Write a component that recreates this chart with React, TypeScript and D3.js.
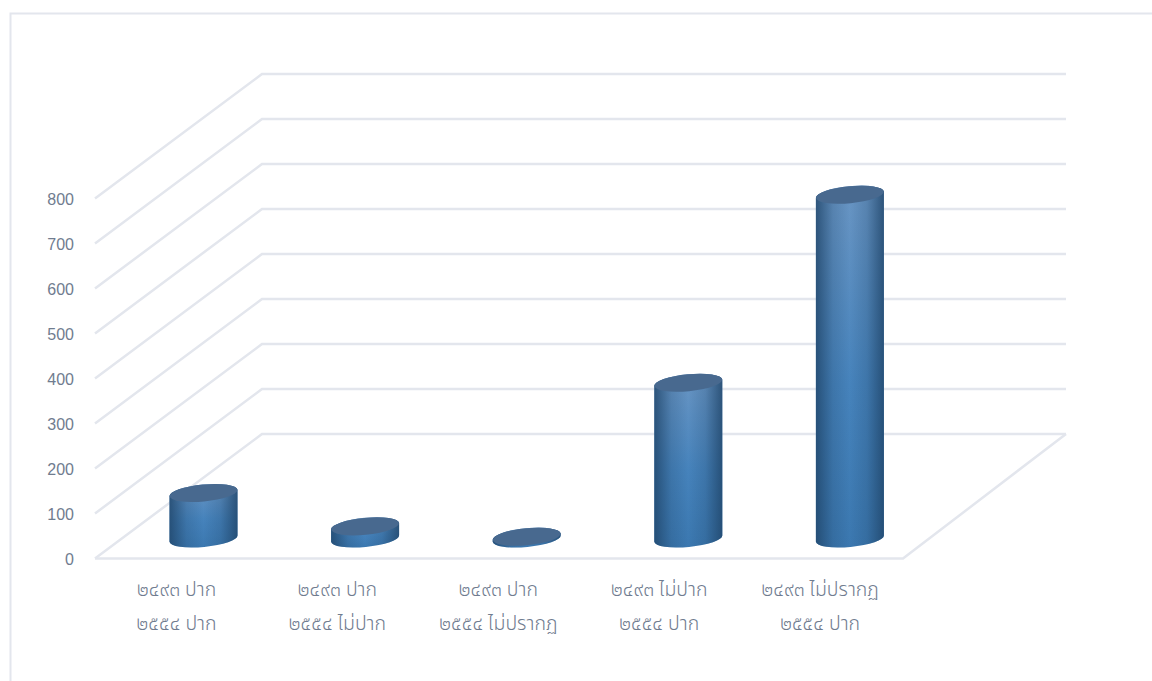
import React from "react";
import * as d3 from "d3";

// Survey outcome pairs: the status in each of the two survey years.
const firstYearLabels = ["๒๔๙๓ ปาก", "๒๔๙๓ ปาก", "๒๔๙๓ ปาก", "๒๔๙๓ ไม่ปาก", "๒๔๙๓ ไม่ปรากฏ"];
const secondYearLabels = ["๒๕๕๔ ปาก", "๒๕๕๔ ไม่ปาก", "๒๕๕๔ ไม่ปรากฏ", "๒๕๕๔ ปาก", "๒๕๕๔ ปาก"];
const counts = [101, 27, 4, 346, 764];
const yTicks = [0, 100, 200, 300, 400, 500, 600, 700, 800];

const WIDTH = 1152;
const HEIGHT = 681;

// Floor of the 3-D plot box.
const frontLeft = 95;
const frontRight = 903;
const backLeft = 262;
const backRight = 1066;
const frontBase = 558.5;
const backBase = 434;

const wallY = d3.scaleLinear().domain([0, 800]).range([backBase, 74]);
const frontY = d3.scaleLinear().domain([0, 800]).range([frontBase, 198.5]);
const barHeight = d3.scaleLinear().domain([0, 800]).range([0, 360]);
const barX = d3.scaleBand<number>().domain(d3.range(5)).range([122.7, 930.7]).paddingInner(0);
const labelX = d3.scaleBand<number>().domain(d3.range(5)).range([96, 900.5]).paddingInner(0);

const BAR_RX = 34;
const BAR_RY = 8.5;
const TILT = -5.5;
const BAR_BASE = 538.5;

const gridColor = "#e3e6ed";
const textColor = "#707c8f";
const fontFamily = '"Noto Sans", "Noto Sans Thai", "Liberation Sans", sans-serif';

// Body outline of a tilted cylinder: bottom half-ellipse plus the straight sides.
function cylinderPath(cx: number, top: number, bottom: number) {
  const dy = BAR_RX * Math.sin((TILT * Math.PI) / 180);
  const lx = cx - BAR_RX;
  const rx = cx + BAR_RX;
  return (
    `M${lx},${top - dy}` +
    `A${BAR_RX},${BAR_RY} ${TILT} 0 1 ${rx},${top + dy}` +
    `L${rx},${bottom + dy}` +
    `A${BAR_RX},${BAR_RY} ${TILT} 0 1 ${lx},${bottom - dy}Z`
  );
}

export default function App() {
  return (
    <svg
      width={WIDTH}
      height={HEIGHT}
      viewBox={`0 0 ${WIDTH} ${HEIGHT}`}
      style={{ position: "absolute", left: 0, top: 0, background: "#fff" }}
    >
      <defs>
        <linearGradient id="bodyShade" x1="0" x2="1" y1="0" y2="0">
          <stop offset="0" stopColor="#1f4468" stopOpacity={0.8} />
          <stop offset="0.25" stopColor="#1f4468" stopOpacity={0.22} />
          <stop offset="0.5" stopColor="#1f4468" stopOpacity={0} />
          <stop offset="0.75" stopColor="#1f4468" stopOpacity={0.22} />
          <stop offset="1" stopColor="#1f4468" stopOpacity={0.8} />
        </linearGradient>
        <linearGradient id="bodyFill" x1="0" x2="0" y1="0" y2="1">
          <stop offset="0" stopColor="#6a96c4" />
          <stop offset="0.55" stopColor="#4683bc" />
          <stop offset="1" stopColor="#3b78b0" />
        </linearGradient>
      </defs>

      {/* chart frame */}
      <path d={`M${WIDTH},13.5H10.5V${HEIGHT}`} fill="none" stroke={gridColor} strokeWidth={2} />

      {/* value gridlines along the side and back walls */}
      {yTicks.map((t) => (
        <path
          key={t}
          d={`M${frontLeft},${frontY(t)}L${backLeft},${wallY(t)}H${backRight}`}
          fill="none"
          stroke={gridColor}
          strokeWidth={2.5}
        />
      ))}

      {/* floor edges */}
      <path
        d={`M${frontLeft},${frontBase}H${frontRight}L${backRight},${backBase}`}
        fill="none"
        stroke={gridColor}
        strokeWidth={2.5}
      />

      {/* value axis labels */}
      {yTicks.map((t) => (
        <text
          key={t}
          x={74}
          y={frontY(t) + 6}
          textAnchor="end"
          fontFamily='"Liberation Sans", sans-serif'
          fontSize={16}
          fill={textColor}
        >
          {t}
        </text>
      ))}

      {/* cylinders */}
      {counts.map((v, i) => {
        const cx = barX(i)! + barX.bandwidth() / 2;
        const top = BAR_BASE - barHeight(v);
        const d = cylinderPath(cx, top, BAR_BASE);
        return (
          <g key={i}>
            <path d={d} fill="url(#bodyFill)" />
            <path d={d} fill="url(#bodyShade)" />
            <ellipse
              cx={cx}
              cy={top}
              rx={BAR_RX}
              ry={BAR_RY}
              fill="#48698f"
              transform={`rotate(${TILT} ${cx} ${top})`}
            />
          </g>
        );
      })}

      {/* two-line category labels */}
      {counts.map((_, i) => {
        const cx = labelX(i)! + labelX.bandwidth() / 2;
        return (
          <g key={i} fontFamily={fontFamily} fontSize={19.5} fontWeight={300} fill={textColor} textAnchor="middle">
            <text x={cx} y={596}>{firstYearLabels[i]}</text>
            <text x={cx} y={630}>{secondYearLabels[i]}</text>
          </g>
        );
      })}
    </svg>
  );
}
